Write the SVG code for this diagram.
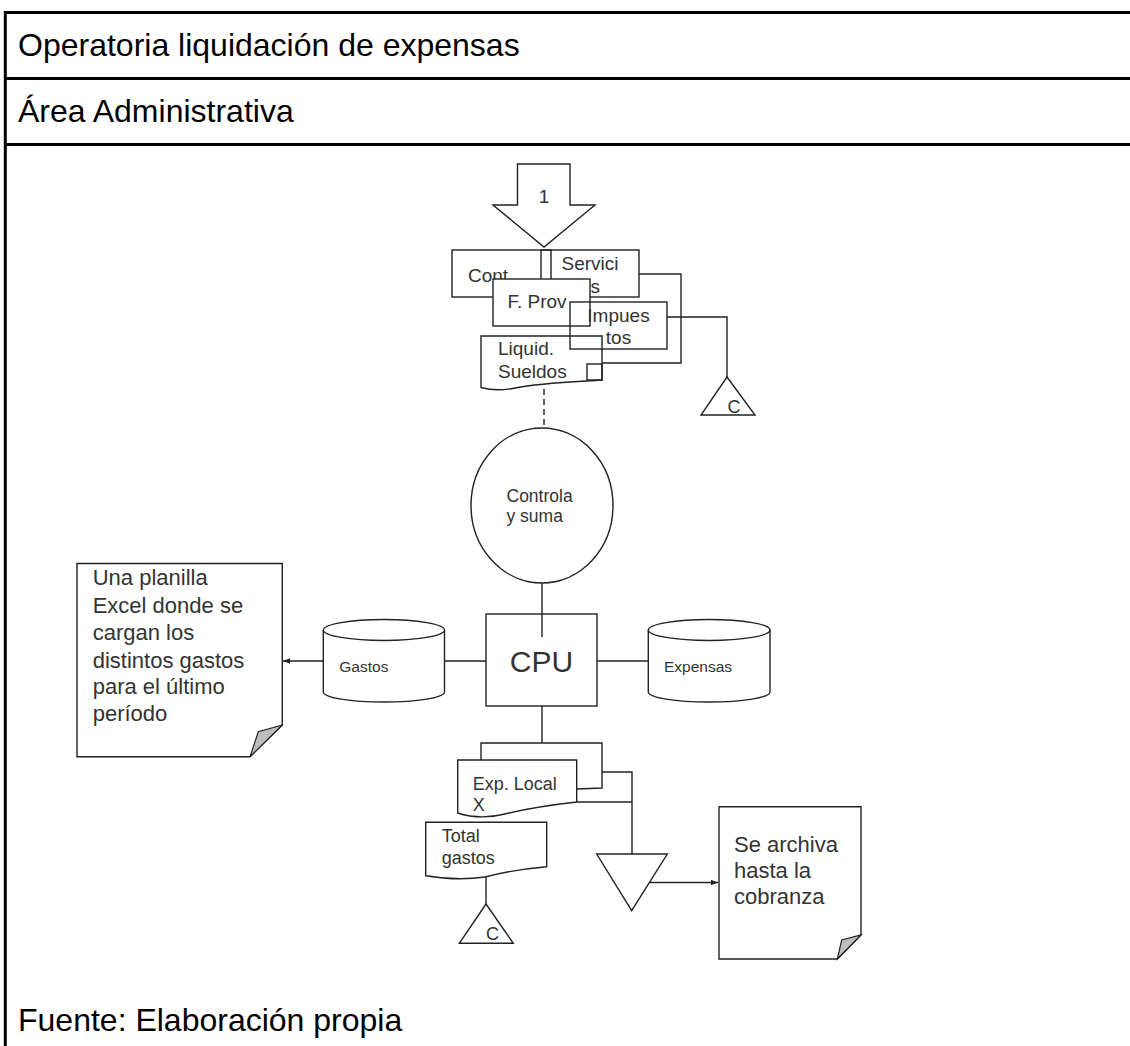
<svg xmlns="http://www.w3.org/2000/svg" width="1130" height="1046" viewBox="0 0 1130 1046">
<style>
.frame{stroke:#000;stroke-width:3;fill:none}
.hd{font-family:"Liberation Sans",Arial,sans-serif;font-size:32px;fill:#000}
.s{stroke:#222;stroke-width:1.4;fill:none}
.w{stroke:#222;stroke-width:1.4;fill:#fff}
.t{font-family:"Liberation Sans",Arial,sans-serif;fill:#333}
.f19{font-size:19px}
.f18{font-size:18px}
.f17{font-size:17.5px}
.f15{font-size:15.5px}
.f22{font-size:22px}
.f30{font-size:30px}
.fold{fill:#bdbdbd;stroke:#222;stroke-width:1.2}
</style>
<defs>
<marker id="ah" viewBox="0 0 10 10" refX="10" refY="5" markerWidth="7" markerHeight="7" markerUnits="userSpaceOnUse" orient="auto">
<path d="M0,1 L10,5 L0,9 Z" fill="#222"/>
</marker>
</defs>
<rect width="1130" height="1046" fill="#fff"/>
<g id="frame">
<line class="frame" x1="5.3" y1="11" x2="5.3" y2="1046"/>
<line class="frame" x1="4" y1="12.5" x2="1130" y2="12.5"/>
<line class="frame" x1="4" y1="78.5" x2="1130" y2="78.5"/>
<line class="frame" x1="4" y1="144.5" x2="1130" y2="144.5"/>
<text class="hd" x="18" y="56">Operatoria liquidación de expensas</text>
<text class="hd" x="18" y="122">Área Administrativa</text>
<text class="hd" x="18" y="1031">Fuente: Elaboración propia</text>
</g>
<g id="connectors">
<polyline class="s" points="639,274 681,274 681,363 602,363"/>
<polyline class="s" points="667,317 727,317 727,377"/>
<line class="s" x1="544" y1="389" x2="544" y2="428" stroke-dasharray="6,4"/>
<line class="s" x1="542" y1="583" x2="542" y2="637"/>
<line class="s" x1="542" y1="706" x2="542" y2="743"/>
<polyline class="s" points="481,760 481,743 602,743 602,788 577,789"/>
<polyline class="s" points="602,772 632,772 632,854"/>
<line class="s" x1="577" y1="802" x2="632" y2="802"/>
<line class="s" x1="650" y1="882.5" x2="718" y2="882.5" marker-end="url(#ah)"/>
<line class="s" x1="486" y1="877" x2="486" y2="904"/>
<line class="s" x1="323" y1="661" x2="283" y2="661" marker-end="url(#ah)"/>
<line class="s" x1="444.5" y1="661" x2="486" y2="661"/>
<line class="s" x1="597" y1="661" x2="648.3" y2="661"/>
</g>
<g id="entrada">
<path class="w" d="M517.5,164 H570 V205 H595 L544,247 L493,205 H517.5 Z"/>
<text class="t f19" x="544" y="203" text-anchor="middle">1</text>
</g>
<g id="cont">
<rect class="w" x="452" y="250" width="99" height="47"/>
<text class="t f19" x="468" y="282">Cont</text>
</g>
<g id="servicios">
<rect class="s" x="541" y="250" width="98" height="47"/>
<text class="t f19" x="590" y="270" text-anchor="middle">Servici</text>
<text class="t f19" x="590" y="292.5" text-anchor="middle">os</text>
</g>
<g id="fprov">
<rect class="w" x="493" y="279" width="97" height="47"/>
<text class="t f19" x="507.5" y="308">F. Prov</text>
</g>
<g id="liquid">
<path class="w" d="M481,336 H602 V380 C570,382 540,383 515,388 C500,391 490,390 481,387.5 Z"/>
<rect class="s" x="587" y="364" width="15" height="16"/>
<text class="t f19" x="498" y="355">Liquid.</text>
<text class="t f19" x="498" y="377.5">Sueldos</text>
</g>
<g id="impuestos">
<rect class="s" x="570" y="302" width="97" height="47"/>
<text class="t f19" x="618.5" y="321.5" text-anchor="middle">Impues</text>
<text class="t f19" x="618.5" y="344" text-anchor="middle">tos</text>
</g>
<g id="archivo1">
<path class="w" d="M727,377 L755,415 H701 Z"/>
<text class="t f18" x="734" y="413" text-anchor="middle">C</text>
</g>
<g id="controla">
<ellipse class="w" cx="542" cy="505.5" rx="71" ry="77.5"/>
<text class="t f17" x="506.5" y="501.5">Controla</text>
<text class="t f17" x="506.5" y="522">y suma</text>
</g>
<g id="cpu">
<rect class="s" x="486" y="614" width="111" height="92"/>
<text class="t f30" x="541.5" y="671.5" text-anchor="middle">CPU</text>
</g>
<g id="gastos">
<path class="w" d="M323.3,630 V692 A60.6,10 0 0 0 444.5,692 V630"/>
<ellipse class="w" cx="383.9" cy="630" rx="60.6" ry="10.5"/>
<text class="t f15" x="339.3" y="671.5">Gastos</text>
</g>
<g id="expensas">
<path class="w" d="M648.3,630 V692 A60.85,10 0 0 0 770,692 V630"/>
<ellipse class="w" cx="709.15" cy="630" rx="60.85" ry="10.5"/>
<text class="t f15" x="664" y="671.5">Expensas</text>
</g>
<g id="nota-planilla">
<path class="w" d="M77,563.5 H282.3 V725 L250,756.7 H77 Z"/>
<path class="fold" d="M250,756.7 L282.3,725 L258.3,731.7 Z"/>
<text class="t f22" x="92.7" y="585">Una planilla</text>
<text class="t f22" x="92.7" y="612.5">Excel donde se</text>
<text class="t f22" x="92.7" y="640">cargan los</text>
<text class="t f22" x="92.7" y="667.5">distintos gastos</text>
<text class="t f22" x="92.7" y="694">para el último</text>
<text class="t f22" x="92.7" y="721">período</text>
</g>
<g id="exp-local">
<path class="w" d="M457.7,760 H576.7 V802 C550,805 525,809 505,814 C485,819 470,817 457.7,813 Z"/>
<text class="t f18" x="472.7" y="790">Exp. Local</text>
<text class="t f18" x="472.7" y="811">X</text>
</g>
<g id="total-gastos">
<path class="w" d="M425.7,822.3 H546.7 V866.7 C520,869 500,873 485,877 C465,880 445,879 425.7,875.7 Z"/>
<text class="t f18" x="441.7" y="841.5">Total</text>
<text class="t f18" x="441.7" y="864">gastos</text>
</g>
<g id="archivo2">
<path class="w" d="M486,904 L513.3,943.3 H459.3 Z"/>
<text class="t f18" x="492.5" y="940" text-anchor="middle">C</text>
</g>
<g id="archivo3">
<path class="w" d="M596.7,854 H667.3 L631.7,910.7 Z"/>
</g>
<g id="nota-archiva">
<path class="w" d="M719,806.7 H861 V935 L837.3,959 H719 Z"/>
<path class="fold" d="M837.3,959 L861,935 L841.7,940 Z"/>
<text class="t f22" x="734" y="851.5">Se archiva</text>
<text class="t f22" x="734" y="877.5">hasta la</text>
<text class="t f22" x="734" y="903.5">cobranza</text>
</g>
</svg>
